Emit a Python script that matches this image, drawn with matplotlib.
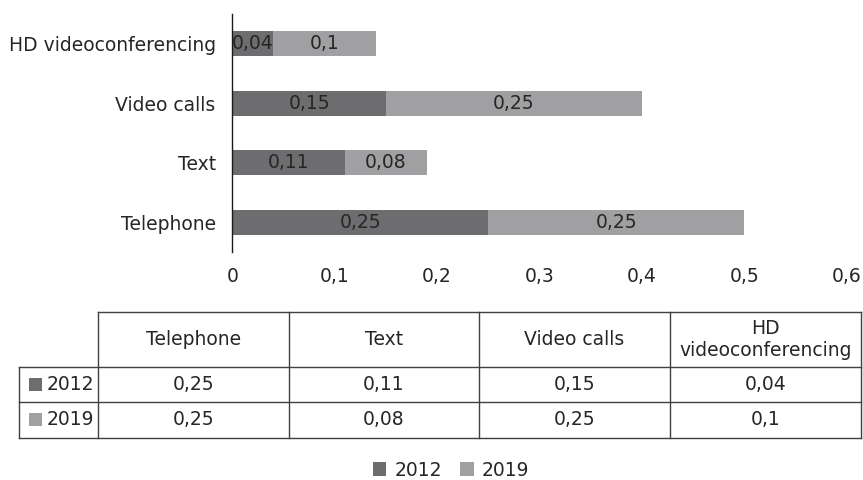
import matplotlib
matplotlib.use("Agg")
import matplotlib.pyplot as plt
from matplotlib.patches import Rectangle
from matplotlib.ticker import FuncFormatter

# Data
categories = ["Telephone", "Text", "Video calls", "HD videoconferencing"]
table_headers = ["Telephone", "Text", "Video calls", "HD\nvideoconferencing"]
series_names = ["2012", "2019"]
values_2012 = [0.25, 0.11, 0.15, 0.04]
values_2019 = [0.25, 0.08, 0.25, 0.10]
x_ticks = [0, 0.1, 0.2, 0.3, 0.4, 0.5, 0.6]

colors = ["#6d6d70", "#a0a0a3"]
text_color = "#262626"
line_color = "#404040"
FS = 13.5

plt.rcParams["font.family"] = ["DejaVu Sans"]

W, H = 863, 480
fig = plt.figure(figsize=(W / 100, H / 100), dpi=100)


def comma(v):
    return f"{v:g}".replace(".", ",")


# Bar chart area (pixel layout converted to figure fractions)
ax_left, ax_right, ax_top, ax_bottom = 232.3, 846.6, 14, 252
ax = fig.add_axes([ax_left / W, 1 - ax_bottom / H,
                   (ax_right - ax_left) / W, (ax_bottom - ax_top) / H])

ypos = list(range(len(categories)))
b1 = ax.barh(ypos, values_2012, height=0.414, color=colors[0], label=series_names[0])
b2 = ax.barh(ypos, values_2019, height=0.414, left=values_2012, color=colors[1],
             label=series_names[1])
ax.bar_label(b1, labels=[comma(v) for v in values_2012], label_type="center",
             fontsize=FS, color=text_color)
ax.bar_label(b2, labels=[comma(v) for v in values_2019], label_type="center",
             fontsize=FS, color=text_color)

ax.set_xlim(0, 0.6)
ax.set_ylim(-0.5, 3.5)
ax.set_xticks(x_ticks)
ax.xaxis.set_major_formatter(FuncFormatter(lambda v, p: comma(round(v, 2))))
ax.set_yticks(ypos)
ax.set_yticklabels(categories)
ax.tick_params(axis="y", length=0, pad=12, labelsize=FS, labelcolor=text_color)
ax.tick_params(axis="x", length=0, pad=11, labelsize=FS, labelcolor=text_color)
for s in ["top", "right", "bottom"]:
    ax.spines[s].set_visible(False)
ax.spines["left"].set_color("#1a1a1a")
ax.spines["left"].set_linewidth(1.0)

# Data table below the chart, in pixel coordinates
tab = fig.add_axes([0, 0, 1, 1])
tab.set_xlim(0, W)
tab.set_ylim(H, 0)
tab.axis("off")

col_edges = [98, 289, 479, 670, 860.5]
row_edges = [312, 367, 402, 437.5]
label_left = 19
lw = 1.0

# horizontal lines
tab.plot([col_edges[0], col_edges[-1]], [row_edges[0]] * 2, color=line_color, lw=lw)
for y in row_edges[1:]:
    tab.plot([label_left, col_edges[-1]], [y, y], color=line_color, lw=lw)
# vertical lines
for x in col_edges:
    tab.plot([x, x], [row_edges[0], row_edges[-1]], color=line_color, lw=lw)
tab.plot([label_left, label_left], [row_edges[1], row_edges[-1]], color=line_color, lw=lw)

for j, head in enumerate(table_headers):
    cx = (col_edges[j] + col_edges[j + 1]) / 2
    cy = (row_edges[0] + row_edges[1]) / 2
    tab.text(cx, cy, head, ha="center", va="center", fontsize=FS, color=text_color,
             linespacing=1.15)

for i, (name, vals) in enumerate(zip(series_names, [values_2012, values_2019])):
    cy = (row_edges[i + 1] + row_edges[i + 2]) / 2
    tab.add_patch(Rectangle((29, cy - 6.5), 13, 13, color=colors[i], lw=0))
    tab.text(94, cy, name, ha="right", va="center", fontsize=FS, color=text_color)
    for j, v in enumerate(vals):
        cx = (col_edges[j] + col_edges[j + 1]) / 2
        tab.text(cx, cy, comma(v), ha="center", va="center", fontsize=FS,
                 color=text_color)

# Legend
fig.legend(handles=[b1, b2], labels=series_names, loc="center",
           bbox_to_anchor=(451 / W, 1 - 470 / H), ncol=2, frameon=False,
           fontsize=FS, handlelength=0.7, handleheight=0.7, handletextpad=0.45,
           columnspacing=1.0, labelcolor=text_color)

fig.savefig("out.png", dpi=100)
